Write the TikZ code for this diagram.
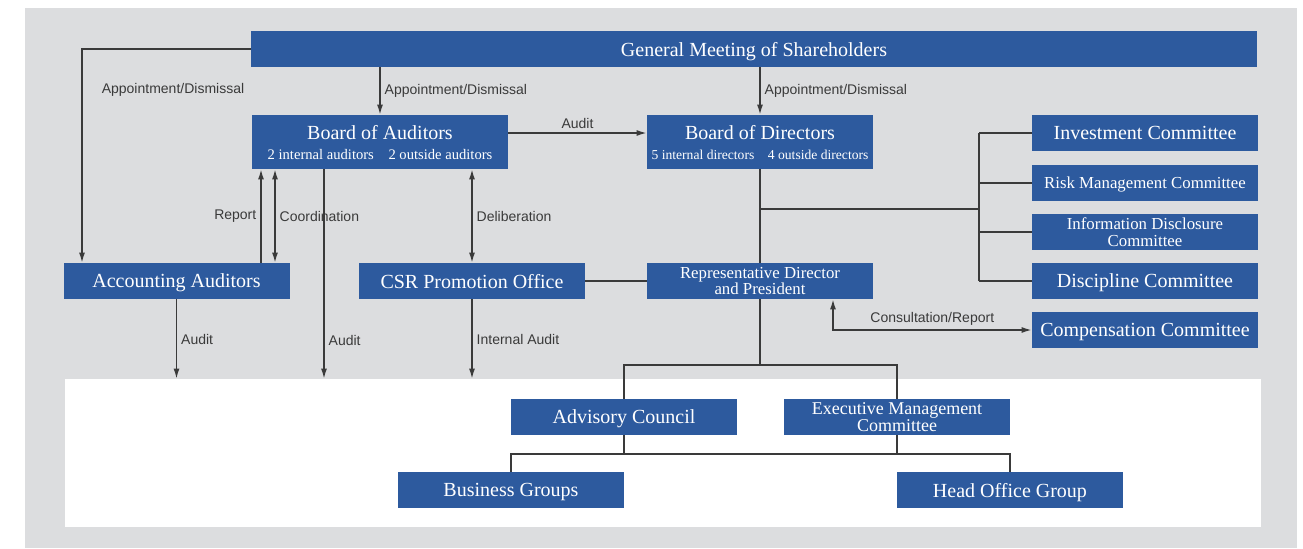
\documentclass[tikz,border=0pt]{standalone}
\usepackage{fontspec}
\setmainfont{Liberation Serif}
\setsansfont{Liberation Sans}
\usetikzlibrary{positioning, arrows.meta, calc}
\definecolor{orgBlue}{HTML}{2D5A9E}
\definecolor{panelGray}{HTML}{DCDDDF}
\definecolor{lineGray}{HTML}{3A3A3A}

\begin{document}
\begin{tikzpicture}[
  x=0.5pt, y=-0.5pt,
  box/.style={fill=orgBlue, text=white, inner sep=0pt, text depth=0pt,
              minimum width=113pt, minimum height=18pt,
              font=\fontsize{10}{10}\selectfont, align=center},
  boxs/.style={box, font=\fontsize{8.4}{8.2}\selectfont},
  board/.style={box, minimum height=27pt, text depth=-2pt,
                font=\fontsize{10}{10}\selectfont},
  lbl/.style={font=\sffamily\fontsize{7}{8}\selectfont, text=lineGray, inner sep=2pt},
  conn/.style={draw=lineGray, line width=0.7pt},
  arr/.style={conn, -{Latex[length=5pt,width=3pt]}},
  darr/.style={conn, {Latex[length=5pt,width=3pt]}-{Latex[length=5pt,width=3pt]}}
]
\useasboundingbox (0,0) rectangle (1303,548);
\fill[panelGray] (25,8) rectangle (1297,548);
\node[fill=white, minimum width=598pt, minimum height=74pt, inner sep=0pt] (ops) at (663,453) {};

% organs
\node[box, minimum width=503pt] (gm) at (754,49) {General Meeting of Shareholders};
\node[board, minimum width=128pt] (boa) at (380,142)
  {Board of Auditors\\{\fontsize{7.3}{8}\selectfont 2 internal auditors\quad 2 outside auditors}};
\node[board] (bod) at (760,142)
  {Board of Directors\\{\fontsize{6.8}{8}\selectfont 5 internal directors\quad 4 outside directors}};
\node[box]  (inv)  at (1145,133) {Investment Committee};
\node[boxs] (risk) at (1145,183) {Risk Management Committee};
\node[boxs] (info) at (1145,232) {Information Disclosure\\Committee};
\node[box]  (disc) at (1145,281) {Discipline Committee};
\node[box]  (comp) at (1145,330) {Compensation Committee};
\node[box]  (acc)  at (176.5,281) {Accounting Auditors};
\node[box]  (csr)  at (472,281) {CSR Promotion Office};
\node[boxs] (rep)  at (760,281) {Representative Director\\and President};
\node[box]  (adv)  at (624,417) {Advisory Council};
\node[boxs, font=\fontsize{9}{8.5}\selectfont] (exec) at (897,417) {Executive Management\\Committee};
\node[box]  (bus)  at (511,490) {Business Groups};
\node[box]  (hog)  at (1010,490) {Head Office Group};

% helper coordinates
\coordinate (xgm) at (82,0);
\coordinate (xrep) at (261,0);
\coordinate (xcoo) at (275,0);
\coordinate (xaud) at (324,0);
\coordinate (xcon) at (833,0);
\coordinate (xbr) at (979,0);
\coordinate (yaud) at (0,133);
\coordinate (jn) at (760,209);
\coordinate (ym) at (0,365);
\coordinate (yl) at (0,454);

% appointment
\draw[arr] (gm.west) -| (xgm |- acc.north);
\node[lbl] at (173,90) {Appointment/Dismissal};
\draw[arr] (gm.south -| boa.north) -- node[lbl, right] {Appointment/Dismissal} (boa.north);
\draw[arr] (gm.south -| bod.north) -- node[lbl, right] {Appointment/Dismissal} (bod.north);

% audit lines
\draw[arr] (yaud -| boa.east) -- node[lbl, above] {Audit} (yaud -| bod.west);
\draw[arr] (xrep |- acc.north) -- node[lbl, left] {Report} (xrep |- boa.south);
\draw[darr] (xcoo |- acc.north) -- node[lbl, right, fill=panelGray] {Coordination} (xcoo |- boa.south);
\draw[arr] (xaud |- boa.south) -- node[lbl, right, pos=0.82] {Audit} (xaud |- ops.north);
\draw[darr] (boa.south -| csr.north) -- node[lbl, right] {Deliberation} (csr.north);
\draw[conn] (csr.east) -- (rep.west);
\draw[arr] (csr.south) -- node[lbl, right] {Internal Audit} (csr.south |- ops.north);
\draw[arr] (acc.south) -- node[lbl, right] {Audit} (acc.south |- ops.north);

% directors and committees
\draw[conn] (bod.south) -- (rep.north);
\draw[conn] (jn) -- (jn -| xbr);
\draw[conn] (xbr |- inv.west) -- (xbr |- disc.west);
\foreach \c in {inv,risk,info,disc}
  \draw[conn] (xbr |- \c.west) -- (\c.west);
\draw[darr] (xcon |- rep.south) |- node[lbl, above, pos=0.75] {Consultation/Report} (comp.west);

% executive tree
\draw[conn] (rep.south) -- (rep.south |- ym);
\draw[conn] (adv.north) |- (ym -| exec.north) -- (exec.north);
\draw[conn] (adv.south) -- (adv.south |- yl);
\draw[conn] (exec.south) -- (exec.south |- yl);
\draw[conn] (bus.north) |- (yl -| hog.north) -- (hog.north);
\end{tikzpicture}
\end{document}
